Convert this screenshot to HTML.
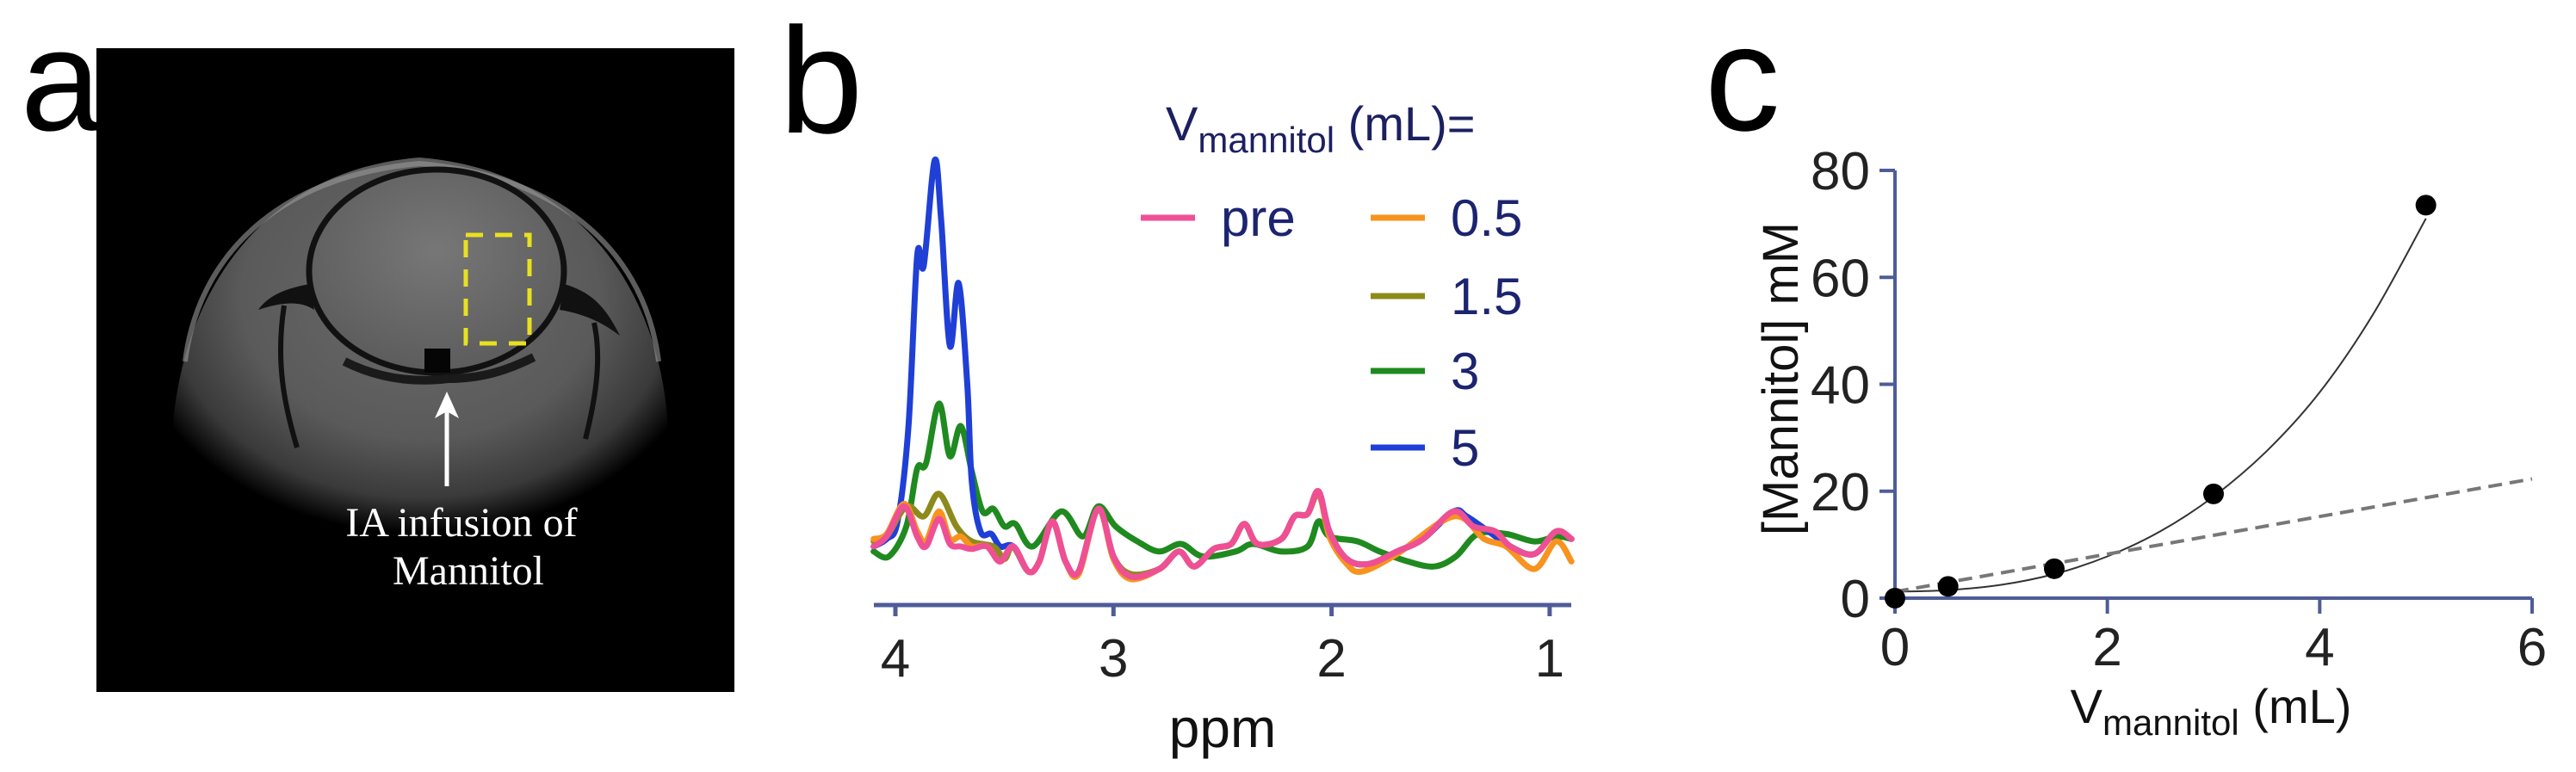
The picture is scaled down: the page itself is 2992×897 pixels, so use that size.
<!DOCTYPE html>
<html><head><meta charset="utf-8"><style>
html,body{margin:0;padding:0;background:#fff;}
svg{display:block;}
text{font-family:"Liberation Sans",Arial,sans-serif;}
</style></head><body>
<svg id="fig" width="2992" height="897" viewBox="0 0 2992 897" xmlns="http://www.w3.org/2000/svg">
<defs>
<radialGradient id="skull" cx="0.5" cy="0.35" r="0.6">
<stop offset="0" stop-color="#6a6a6a"/><stop offset="0.6" stop-color="#5a5a5a"/><stop offset="0.85" stop-color="#3a3a3a"/><stop offset="1" stop-color="#000"/>
</radialGradient>
<linearGradient id="fade" x1="0" y1="0" x2="0" y2="1">
<stop offset="0" stop-color="#000" stop-opacity="0"/><stop offset="0.55" stop-color="#000" stop-opacity="0"/><stop offset="1" stop-color="#000" stop-opacity="1"/>
</linearGradient>
<radialGradient id="brainG" cx="0.5" cy="0.4" r="0.6">
<stop offset="0" stop-color="#777"/><stop offset="1" stop-color="#5c5c5c"/>
</radialGradient>
</defs>

<!-- Panel a -->
<text x="24" y="151" font-size="168" fill="#000">a</text>
<g>
<rect x="112" y="56" width="741" height="748" fill="#000"/>
<path d="M200,560 C190,380 280,200 487,183 C700,200 790,380 775,560 C760,640 640,650 487,640 C330,650 210,640 200,560 Z" fill="url(#skull)"/>
<path d="M200,480 C200,560 210,640 487,650 C760,640 775,560 775,480 L775,660 L200,660 Z" fill="url(#fade)"/>
<path d="M215,420 C230,300 320,205 487,190 C660,205 750,300 765,420" fill="none" stroke="#9a9a9a" stroke-width="6" opacity="0.6"/>
<ellipse cx="507" cy="315" rx="148" ry="118" fill="url(#brainG)" stroke="#111" stroke-width="7"/>
<path d="M360,330 C330,335 310,345 300,360 C330,350 350,350 365,360" fill="#111"/>
<path d="M655,330 C690,340 705,360 720,390 C700,375 680,365 650,360" fill="#111"/>
<path d="M330,355 C320,420 330,470 345,520" stroke="#111" stroke-width="6" fill="none"/>
<path d="M690,375 C700,420 690,470 680,510" stroke="#111" stroke-width="6" fill="none"/>
<path d="M400,420 C440,440 480,445 520,440 C560,440 590,430 620,415" stroke="#1a1a1a" stroke-width="10" fill="none"/>
<rect x="493" y="405" width="30" height="28" fill="#050505"/>
<rect x="541" y="273" width="74" height="126" fill="none" stroke="#e8e020" stroke-width="5" stroke-dasharray="20,14"/>
<line x1="519" y1="565" x2="519" y2="468" stroke="#fff" stroke-width="5"/>
<path d="M519,455 L505,486 L519,478 L533,486 Z" fill="#fff"/>
<text x="536" y="623" font-size="48" fill="#fff" text-anchor="middle" style="font-family:'Liberation Serif',serif">IA infusion of</text>
<text x="544" y="679" font-size="48" fill="#fff" text-anchor="middle" style="font-family:'Liberation Serif',serif">Mannitol</text>
</g>

<!-- Panel b -->
<text x="905" y="154" font-size="175" fill="#000">b</text>
<g id="spectra"></g>

<!-- Panel c -->
<text x="1980" y="151" font-size="175" fill="#000">c</text>
<g id="scatter"></g>
</svg>
<script>
const NS='http://www.w3.org/2000/svg';
function mk(parent,tag,attrs,txt){const e=document.createElementNS(NS,tag);for(const k in attrs)e.setAttribute(k,attrs[k]);if(txt!==undefined)e.textContent=txt;parent.appendChild(e);return e;}
function smoothPath(pts){
  let d='M'+pts[0][0].toFixed(1)+','+pts[0][1].toFixed(1);
  for(let i=0;i<pts.length-1;i++){
    const p0=pts[Math.max(i-1,0)],p1=pts[i],p2=pts[i+1],p3=pts[Math.min(i+2,pts.length-1)];
    const c1x=p1[0]+(p2[0]-p0[0])/6,c1y=p1[1]+(p2[1]-p0[1])/6;
    const c2x=p2[0]-(p3[0]-p1[0])/6,c2y=p2[1]-(p3[1]-p1[1])/6;
    d+='C'+c1x.toFixed(1)+','+c1y.toFixed(1)+' '+c2x.toFixed(1)+','+c2y.toFixed(1)+' '+p2[0].toFixed(1)+','+p2[1].toFixed(1);
  }
  return d;
}

/* ---------- Panel b data ---------- */
const ppmTicks=[4,3,2,1];
const prePpm=[4.10,4.04,3.96,3.90,3.86,3.80,3.75,3.70,3.65,3.58,3.52,3.46,3.39,3.34,3.28,3.22,3.16,3.07,3.00,2.92,2.79,2.70,2.63,2.54,2.46,2.40,2.34,2.23,2.17,2.11,2.06,2.01,1.93,1.83,1.70,1.58,1.44,1.35,1.25,1.18,1.07,0.97,0.90];
const preVal=[7,9,15,9,7,12.5,7.5,7,6.5,7,4,7,2,4,12,4,2,14.5,5,1,2.5,6,3,6.5,7.5,11.5,7.5,8.5,13,13.5,18,10,4.5,3.5,6,8.5,14,11,10,7,5.5,10,8.5];
const p05Ppm=[4.10,4.04,3.96,3.90,3.86,3.80,3.75,3.70,3.65,3.58,3.52,3.46,3.39,3.34,3.28,3.22,3.16,3.07,3.00,2.92,2.79,2.70,2.63,2.54,2.46,2.40,2.34,2.23,2.17,2.11,2.06,2.01,1.93,1.86,1.70,1.44,1.30,1.20,1.07,0.97,0.90];
const p05Val=[8.5,9.5,15.5,10,8,14,8.5,9,7,7,4,7,2,4,12,4,1.5,14.5,4.5,0.5,2.5,6,3,6.5,7.5,11.5,7.5,8.5,13,13.5,18,9,3.5,2,5.5,13,8.5,7,2.5,8,4];
const p15Ppm=[4.10,4.04,3.95,3.87,3.80,3.72,3.65,3.55,3.50,3.46,3.39,3.34,3.28,3.22,3.16,3.07,3.00,2.92,2.79,2.70,2.63,2.54,2.46,2.40,2.34,2.23,2.17,2.11,2.06,2.01,1.93,1.83,1.70,1.58,1.44,1.35,1.25,1.18,1.07,0.97,0.90];
const p15Val=[8,9,15,13,17.5,11,8,7,4.5,7,2,4,12,4,2,14.5,5,1.5,2.5,6,3,6.5,7.5,11.5,7.5,8.5,13,13.5,17.5,10,4.5,3.5,6,8.5,14,11,10,7,5.5,10,8.5];
const p3Ppm=[4.10,4.03,3.95,3.90,3.86,3.80,3.75,3.70,3.65,3.60,3.55,3.50,3.45,3.37,3.24,3.14,3.07,2.99,2.89,2.79,2.69,2.59,2.44,2.36,2.23,2.11,2.06,2.01,1.88,1.78,1.65,1.53,1.43,1.33,1.20,1.07,0.97,0.90];
const p3Val=[6,5,11,22.5,23.5,35.5,25,31,22,14,14.5,11,11.5,7,14,9,15,11,8,6,7.5,5,6,7.5,6,7,12,9,8,6,4,3,5,9.5,9.5,8,9,8.5];
const p5Ppm=[4.10,4.04,3.99,3.94,3.90,3.87,3.82,3.79,3.75,3.71,3.67,3.65,3.61,3.56,3.52,3.46,3.39,3.34,3.28,3.22,3.16,3.07,3.00,2.92,2.79,2.70,2.63,2.54,2.46,2.40,2.34,2.23,2.17,2.11,2.06,2.01,1.93,1.83,1.70,1.58,1.44,1.38,1.28,1.18,1.07,0.97,0.90];
const p5Val=[7,8.5,12,31,65,63,84,72,47,59.5,39,20,10,9.5,7,7,2,4,12,4,2,14.5,5,1,2.5,6,3,6.5,7.5,11.5,7.5,8.5,13,13.5,18,10,4.5,3.5,6,8.5,14,13,10,7,5.5,10,8.5];

const bx=p=>1040+(4-p)*253.3;
const by=v=>675.7-v*5.825;
const g=document.getElementById('spectra');

function addSeries(name,xs,ys,color){
  const pts=xs.map((p,i)=>[bx(p),by(ys[i])]);
  const path=mk(g,'path',{d:smoothPath(pts),fill:'none',stroke:color,'stroke-width':7,'stroke-linejoin':'round','stroke-linecap':'round'});
  
  
}
addSeries('series-3ml',p3Ppm,p3Val,'#1f8a1f');
addSeries('series-5ml',p5Ppm,p5Val,'#1f3fd6');
addSeries('series-1-5ml',p15Ppm,p15Val,'#8d8a1c');
addSeries('series-0-5ml',p05Ppm,p05Val,'#f7931e');
addSeries('series-pre',prePpm,preVal,'#ef4f95');

const axb=mk(g,'line',{x1:1015,y1:703,x2:1825,y2:703,stroke:'#4e5c99','stroke-width':5});


ppmTicks.forEach(t=>{
  const tk=mk(g,'line',{x1:bx(t),y1:703,x2:bx(t),y2:716,stroke:'#4e5c99','stroke-width':5});
  
  
  const lb=mk(g,'text',{x:bx(t),y:786,'font-size':62,'text-anchor':'middle',fill:'#222'},String(t));
  
  
});
const xt=mk(g,'text',{x:1420,y:868,'font-size':64,'text-anchor':'middle',fill:'#111'},'ppm');



const lt=mk(g,'text',{x:1354,y:163,'font-size':56,fill:'#1c2060'});


mk(lt,'tspan',{},'V');
mk(lt,'tspan',{'font-size':42,dy:14},'mannitol');
mk(lt,'tspan',{dy:-14},' (mL)=');

const legNames=['pre','0.5','1.5','3','5'];
const legColors=['#ef4f95','#f7931e','#8d8a1c','#1f8a1f','#1f3fd6'];
const legPos=[[1325,253],[1592,253],[1592,344],[1592,431],[1592,520]];
legNames.forEach((n,i)=>{
  const [x,y]=legPos[i];
  const e=mk(g,'g',{});
  
  
  mk(e,'line',{x1:x,y1:y,x2:x+63,y2:y,stroke:legColors[i],'stroke-width':7});
  mk(e,'text',{x:x+93,y:y+21,'font-size':60,fill:'#1c2470'},n);
});

/* ---------- Panel c data ---------- */
const volX=[0,0.5,1.5,3,5];
const concY=[0,2.2,5.5,19.5,73.5];
const fitX=[0,0.5,1,1.5,2,2.5,3,3.5,4,4.5,5];
const fitY=[1.2,1.5,2.5,4.5,7.8,12.5,19,27.5,38.5,53,71];
const linX=[0,6];
const linY=[1.2,22.3];
const cxTicks=[0,2,4,6];
const cyTicks=[0,20,40,60,80];

const cx=v=>2201+v*(740/6);
const cy=v=>695-v*(497/80);
const c=document.getElementById('scatter');

const fit=mk(c,'path',{d:smoothPath(fitX.map((x,i)=>[cx(x),cy(fitY[i])])),fill:'none',stroke:'#333','stroke-width':2});


const lin=mk(c,'line',{x1:cx(linX[0]),y1:cy(linY[0]),x2:cx(linX[1]),y2:cy(linY[1]),stroke:'#777','stroke-width':4,'stroke-dasharray':'16,9'});



const ya=mk(c,'line',{x1:2201,y1:198,x2:2201,y2:695,stroke:'#4e5c99','stroke-width':4});


const xa=mk(c,'line',{x1:2201,y1:695,x2:2941,y2:695,stroke:'#4e5c99','stroke-width':4});


cyTicks.forEach(t=>{
  const tk=mk(c,'line',{x1:2183,y1:cy(t),x2:2201,y2:cy(t),stroke:'#4e5c99','stroke-width':4});
  
  
  const lb=mk(c,'text',{x:2172,y:cy(t)+22,'font-size':62,'text-anchor':'end',fill:'#222'},String(t));
  
  
});
cxTicks.forEach(t=>{
  const tk=mk(c,'line',{x1:cx(t),y1:695,x2:cx(t),y2:713,stroke:'#4e5c99','stroke-width':4});
  
  
  const lb=mk(c,'text',{x:cx(t),y:773,'font-size':62,'text-anchor':'middle',fill:'#222'},String(t));
  
  
});
volX.forEach((x,i)=>{
  const p=mk(c,'circle',{cx:cx(x),cy:cy(concY[i]),r:12,fill:'#000'});
  
  
});
const yt=mk(c,'text',{x:0,y:0,'font-size':58,'text-anchor':'middle',fill:'#111',transform:'translate(2088,440) rotate(-90)'},'[Mannitol] mM');


const xtc=mk(c,'text',{x:2568,y:840,'font-size':56,'text-anchor':'middle',fill:'#111'});


mk(xtc,'tspan',{},'V');
mk(xtc,'tspan',{'font-size':42,dy:14},'mannitol');
mk(xtc,'tspan',{dy:-14},' (mL)');
</script>
</body></html>
